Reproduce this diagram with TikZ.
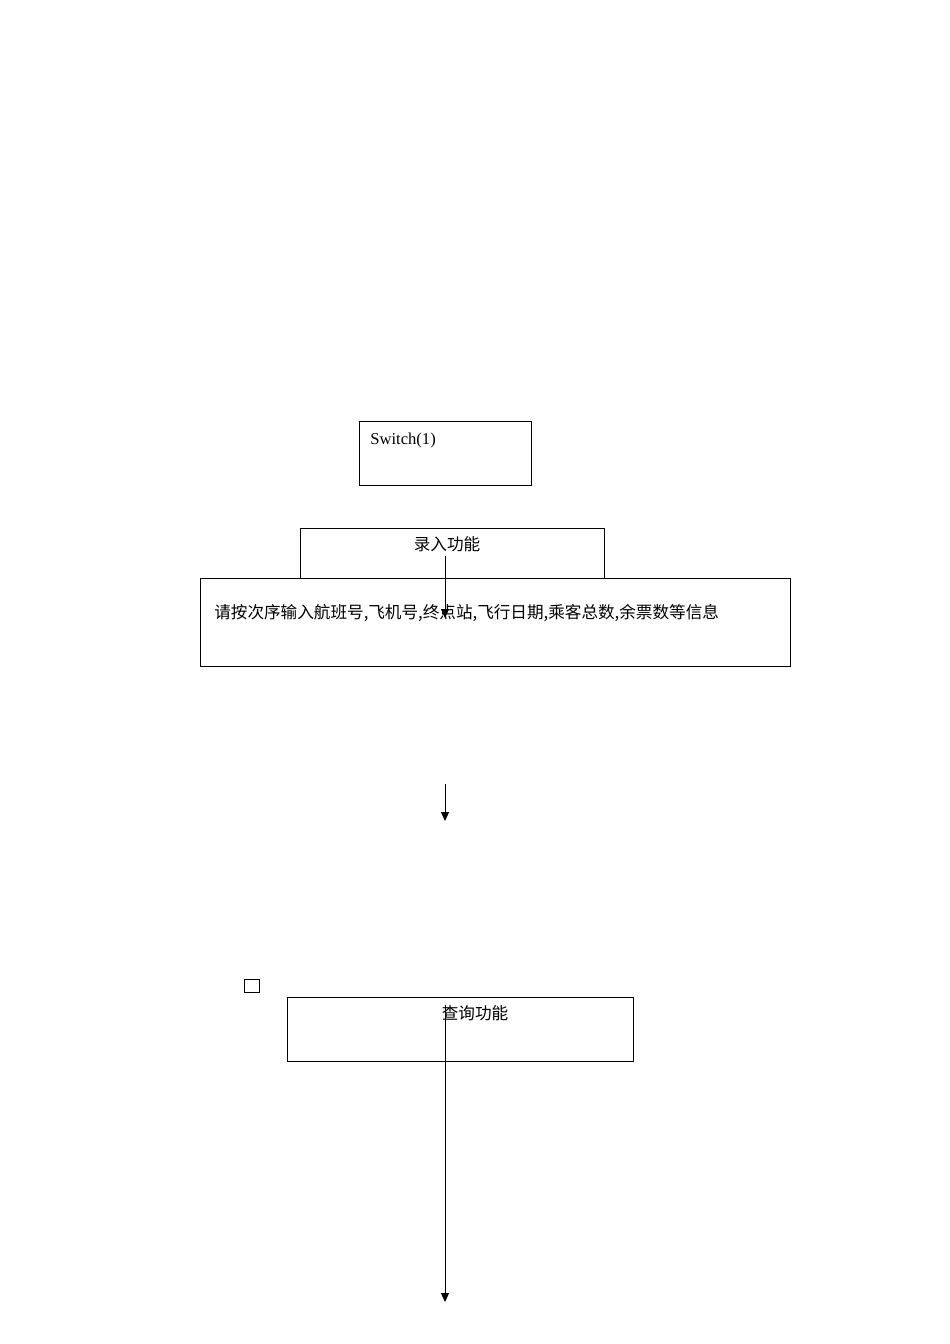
\documentclass[tikz,border=0pt]{standalone}
\usepackage{fontspec}
\setmainfont{Liberation Serif}
\newfontfamily\cjk{Noto Sans CJK SC}
\usetikzlibrary{arrows.meta,positioning}

\begin{document}
\begin{tikzpicture}[x=0.6263pt, y=-0.6263pt,
    box/.style={draw, line width=0.6pt, inner sep=0pt},
    lbl/.style={inner sep=0pt, font=\fontsize{10.4}{12}\selectfont},
    arr/.style={line width=0.6pt, -{Triangle[width=5pt,length=5.6pt]}}]
    \useasboundingbox (0,0) rectangle (950,1344);
    % boxes
    \node[box, minimum width=107.7pt, minimum height=39.5pt] (switch) at (445,453.5) {};
    \node[box, minimum width=189.8pt, minimum height=31.3pt] (input) at (452.5,553) {};
    \node[box, minimum width=370.1pt, minimum height=55.7pt] (info) at (495.5,622.5) {};
    \node[box, minimum width=9.4pt, minimum height=8.1pt] (mark) at (251.5,985.5) {};
    \node[box, minimum width=216.7pt, minimum height=40.1pt] (query) at (460,1029) {};
    % texts
    \node[lbl, anchor=west] (switchtxt) at (370,440) {Switch(1)};
    \node[lbl] (inputtxt) at (447,544) {\cjk 录入功能};
    \node[lbl, anchor=west] (infotxt) at (214,613) {\cjk 请按次序输入航班号,飞机号,终点站,飞行日期,乘客总数,余票数等信息};
    \node[lbl] (querytxt) at (475,1013) {\cjk 查询功能};
    % arrows
    \coordinate (a1) at (445,556);
    \coordinate (b1) at (445,618);
    \coordinate (a2) at (445,784);
    \coordinate (b2) at (445,821);
    \coordinate (a3) at (445,1005);
    \coordinate (b3) at (445,1302);
    \draw[arr] (a1) -- (b1);
    \draw[arr] (a2) -- (b2);
    \draw[arr] (a3) -- (b3);
\end{tikzpicture}
\end{document}
